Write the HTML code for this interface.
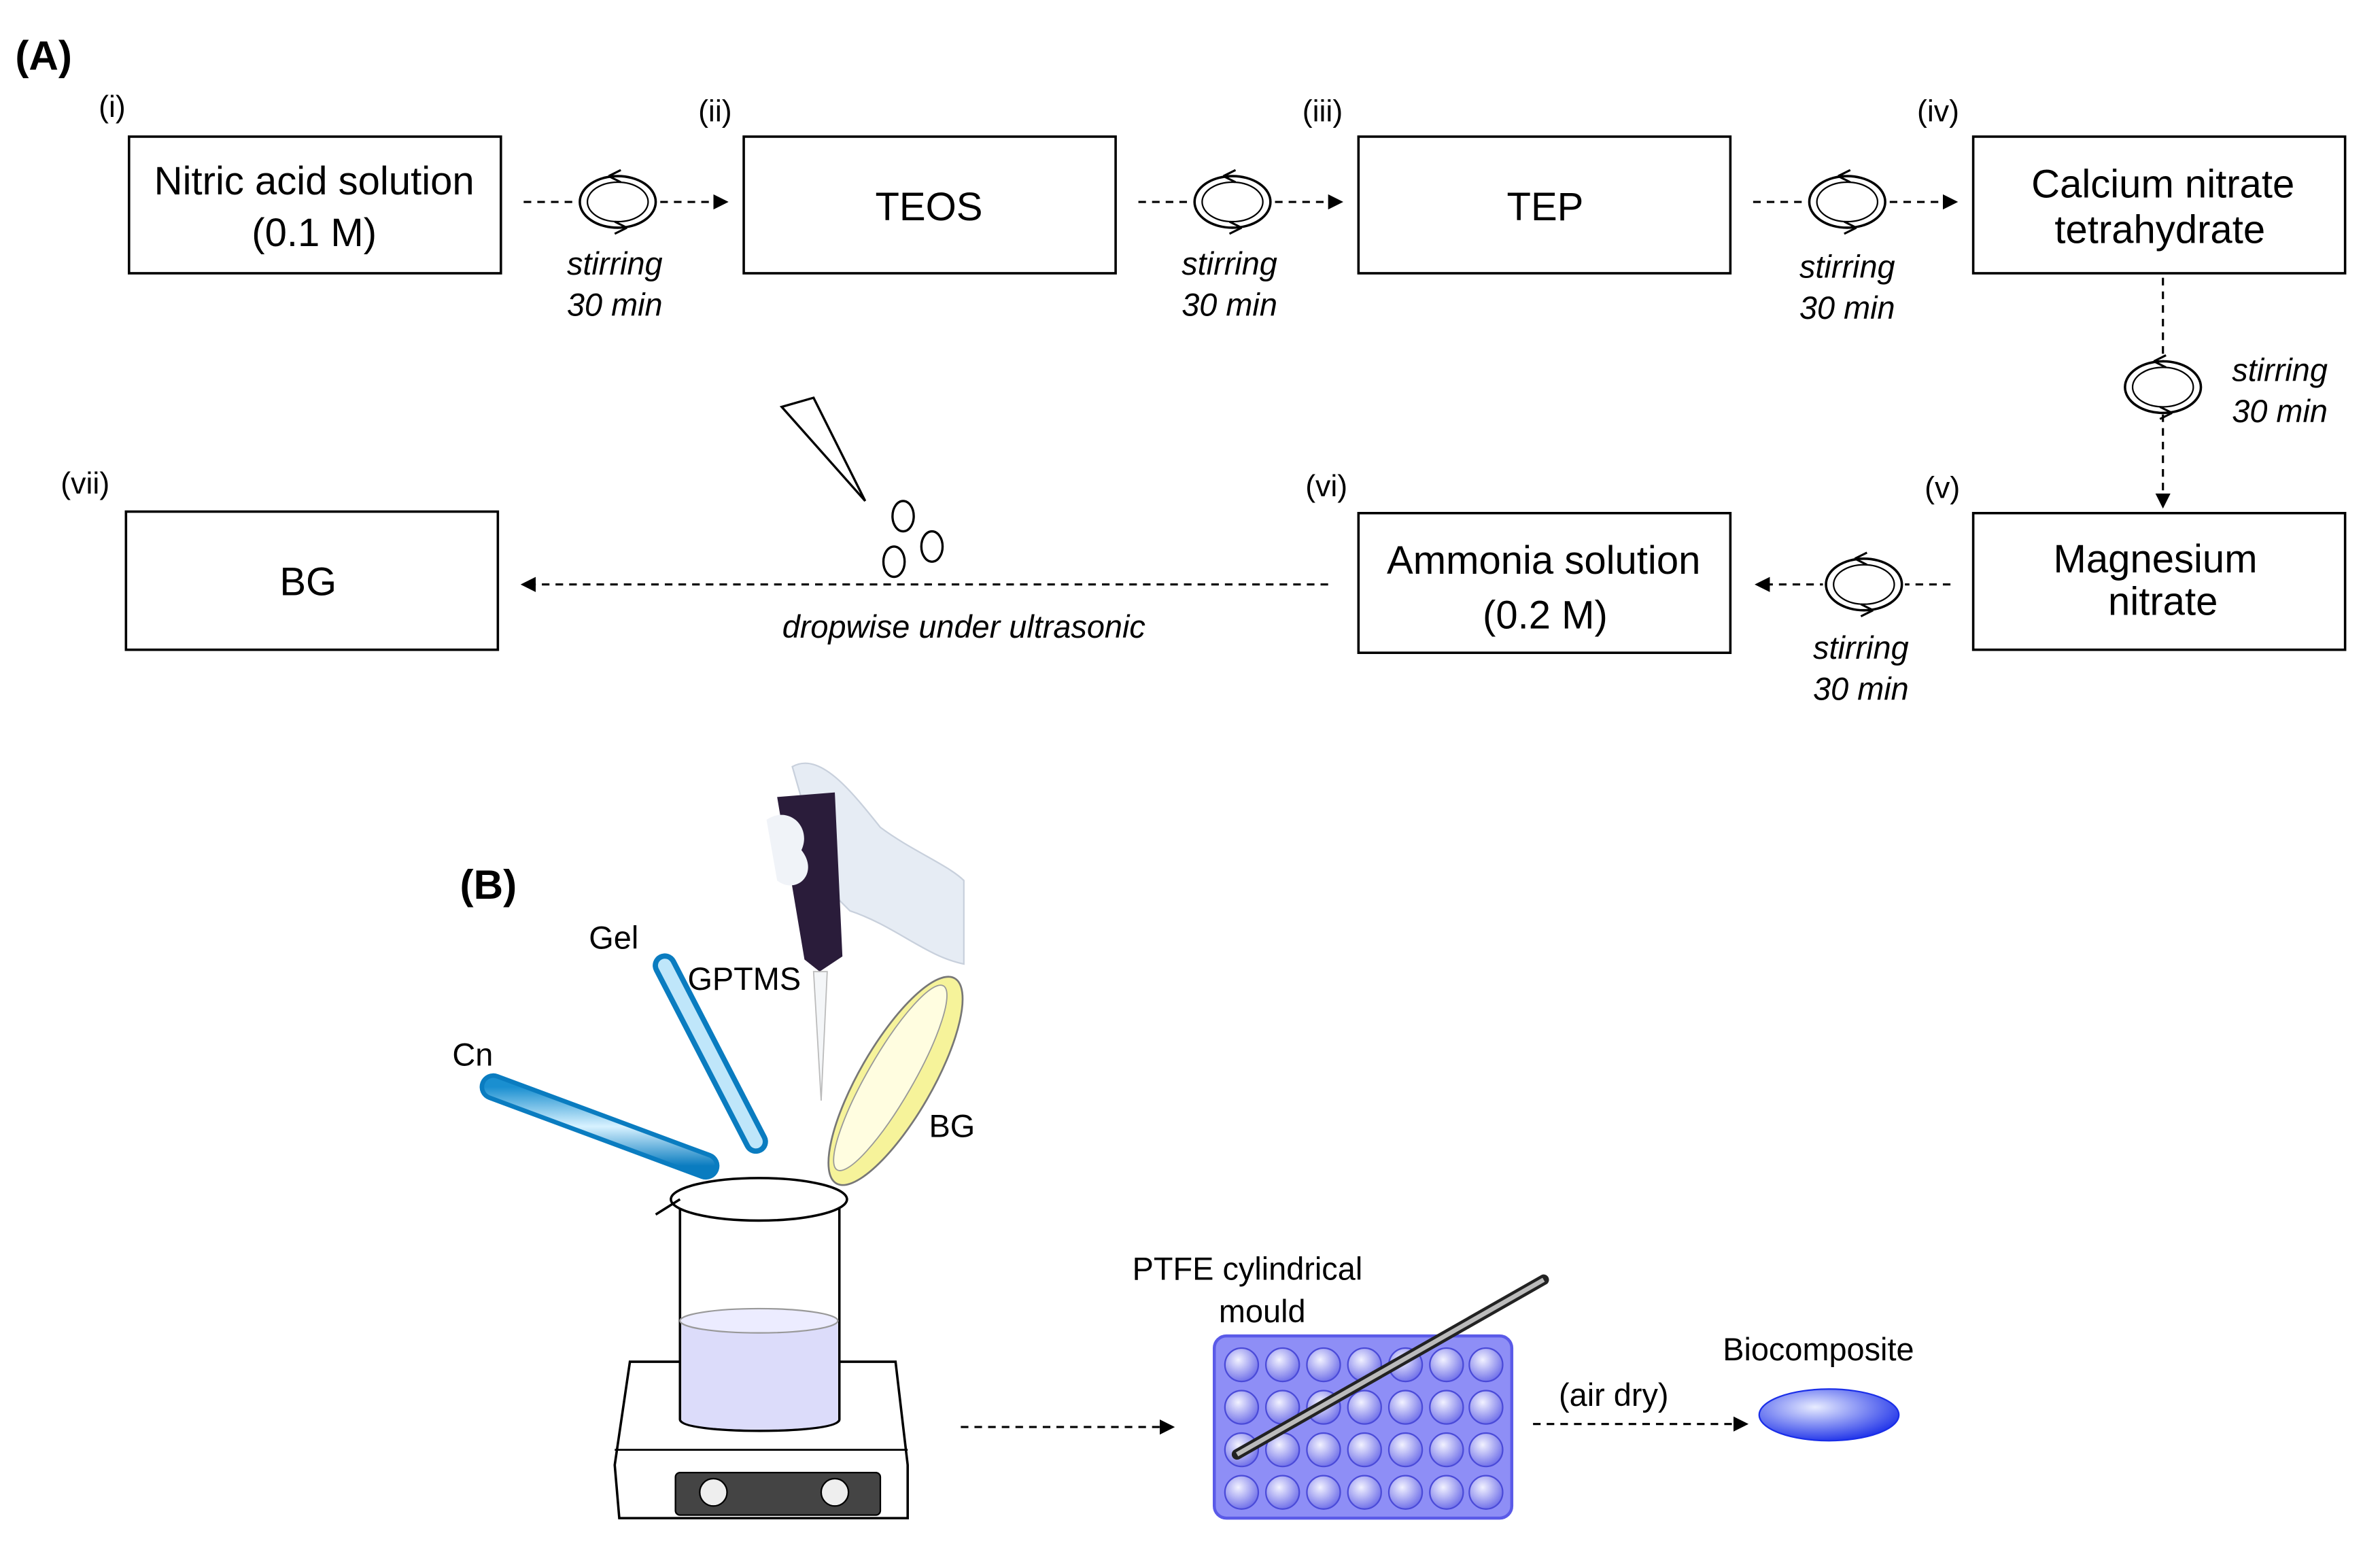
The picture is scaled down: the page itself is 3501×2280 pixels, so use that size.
<!DOCTYPE html>
<html><head><style>html,body{margin:0;padding:0;background:#fff}svg{display:block}</style></head><body>
<svg width="3501" height="2280" viewBox="0 0 1568 1021" preserveAspectRatio="none" xmlns="http://www.w3.org/2000/svg" font-family="Liberation Sans, sans-serif">
<defs>
<marker id="ah" markerWidth="10" markerHeight="10" refX="8" refY="5" orient="auto" markerUnits="userSpaceOnUse"><path d="M0,0 L10,5 L0,10 z" fill="#000"/></marker>
<symbol id="stir" viewBox="-30 -22 60 44" overflow="visible">
<ellipse cx="0" cy="0" rx="25" ry="17" fill="none" stroke="#000" stroke-width="1.6"/>
<ellipse cx="0" cy="0" rx="20" ry="13" fill="none" stroke="#000" stroke-width="1"/>
<path d="M-6,-17 l8,-4 M-6,-17 l8,4 M6,17 l-8,-4 M6,17 l-8,4" stroke="#000" stroke-width="1.4" fill="none"/>
</symbol>
<linearGradient id="tube" x1="0" y1="0" x2="0" y2="1"><stop offset="0" stop-color="#1a8fd0"/><stop offset="0.5" stop-color="#d8f2ff"/><stop offset="1" stop-color="#0a7cc0"/></linearGradient>
<radialGradient id="well" cx="0.4" cy="0.35" r="0.7"><stop offset="0" stop-color="#f2f2ff"/><stop offset="1" stop-color="#6a6ae8"/></radialGradient>
<radialGradient id="bio" cx="0.4" cy="0.35" r="0.7"><stop offset="0" stop-color="#e8ecff"/><stop offset="1" stop-color="#1a2ee8"/></radialGradient>
</defs>
<g font-size="20" fill="#000">
<text x="10" y="46" font-size="27" font-weight="bold">(A)</text>
<text x="65" y="77">(i)</text><text x="460" y="80">(ii)</text><text x="858" y="80">(iii)</text><text x="1263" y="80">(iv)</text>
<text x="40" y="325">(vii)</text><text x="860" y="327">(vi)</text><text x="1268" y="328">(v)</text>
</g>
<g fill="none" stroke="#000" stroke-width="1.6">
<rect x="85" y="90" width="245" height="90"/><rect x="490" y="90" width="245" height="90"/>
<rect x="895" y="90" width="245" height="90"/><rect x="1300" y="90" width="245" height="90"/>
<rect x="83" y="337" width="245" height="91"/><rect x="895" y="338" width="245" height="92"/>
<rect x="1300" y="338" width="245" height="90"/>
</g>
<g font-size="26" text-anchor="middle" fill="#000">
<text x="207" y="128">Nitric acid solution</text><text x="207" y="162">(0.1 M)</text>
<text x="612" y="145">TEOS</text><text x="1018" y="145">TEP</text>
<text x="1425" y="130">Calcium nitrate</text><text x="1423" y="160">tetrahydrate</text>
<text x="203" y="392">BG</text>
<text x="1017" y="378">Ammonia solution</text><text x="1018" y="414">(0.2 M)</text>
<text x="1420" y="377">Magnesium</text><text x="1425" y="405">nitrate</text>
</g>
<g stroke="#000" stroke-width="1.4" stroke-dasharray="5,4" fill="none">
<line x1="345" y1="133" x2="478" y2="133" marker-end="url(#ah)"/>
<line x1="750" y1="133" x2="883" y2="133" marker-end="url(#ah)"/>
<line x1="1155" y1="133" x2="1288" y2="133" marker-end="url(#ah)"/>
<line x1="1425" y1="183" x2="1425" y2="333" marker-end="url(#ah)"/>
<line x1="1285" y1="385" x2="1158" y2="385" marker-end="url(#ah)"/>
<line x1="875" y1="385" x2="345" y2="385" marker-end="url(#ah)"/>
<line x1="633" y1="940" x2="772" y2="940" marker-end="url(#ah)"/>
<line x1="1010" y1="938" x2="1150" y2="938" marker-end="url(#ah)"/>
</g>
<g>
<rect x="380" y="115" width="54" height="36" fill="#fff"/><use href="#stir" x="377" y="111" width="60" height="44"/>
<rect x="785" y="115" width="54" height="36" fill="#fff"/><use href="#stir" x="782" y="111" width="60" height="44"/>
<rect x="1190" y="115" width="54" height="36" fill="#fff"/><use href="#stir" x="1187" y="111" width="60" height="44"/>
<rect x="1398" y="237" width="54" height="36" fill="#fff"/><use href="#stir" x="1395" y="233" width="60" height="44"/>
<rect x="1201" y="367" width="54" height="36" fill="#fff"/><use href="#stir" x="1198" y="363" width="60" height="44"/>
</g>
<g font-size="21" font-style="italic" fill="#000" text-anchor="middle">
<text x="405" y="181">stirring</text><text x="405" y="208">30 min</text>
<text x="810" y="181">stirring</text><text x="810" y="208">30 min</text>
<text x="1217" y="183">stirring</text><text x="1217" y="210">30 min</text>
<text x="1502" y="251">stirring</text><text x="1502" y="278">30 min</text>
<text x="1226" y="434">stirring</text><text x="1226" y="461">30 min</text>
<text x="635" y="420">dropwise under ultrasonic</text>
</g>
<g fill="none" stroke="#000" stroke-width="1.5">
<path d="M515,268 L570,330 L536,262 Z"/>
<ellipse cx="595" cy="340" rx="7" ry="10"/><ellipse cx="589" cy="370" rx="7" ry="10"/><ellipse cx="614" cy="360" rx="7" ry="10"/>
</g>
<text x="303" y="592" font-size="27" font-weight="bold">(B)</text>
<g font-size="21" fill="#000">
<text x="388" y="625">Gel</text><text x="453" y="652">GPTMS</text><text x="298" y="702">Cn</text><text x="612" y="749">BG</text>
<text x="746" y="843">PTFE cylindrical</text><text x="803" y="871">mould</text>
<text x="1027" y="926">(air dry)</text><text x="1135" y="896">Biocomposite</text>
</g>
<path d="M522,505 C540,495 560,520 580,545 C600,560 625,570 635,580 L635,635 C610,630 590,610 560,600 L545,585 Z" fill="#e6ecf4" stroke="#c8d0dc"/>
<path d="M512,525 L550,522 L555,630 L540,640 L530,632 Z" fill="#2a1c3a"/>
<path d="M505,540 C520,530 535,545 528,560 C540,575 525,590 512,580 Z" fill="#f0f3f8"/>
<path d="M536,640 L545,640 L541,725 Z" fill="#f4f6f8" stroke="#bbb" stroke-width="0.8"/>
<g stroke-linecap="round">
<line x1="325" y1="716" x2="465" y2="768" stroke="#0a7cc0" stroke-width="18"/>
<line x1="325" y1="716" x2="465" y2="768" stroke="url(#tube)" stroke-width="12"/>
<line x1="438" y1="636" x2="498" y2="752" stroke="#0a7cc0" stroke-width="16"/>
<line x1="438" y1="636" x2="498" y2="752" stroke="#bfe6fa" stroke-width="9"/>
</g>
<g transform="rotate(-60 590 712)">
<ellipse cx="590" cy="712" rx="78" ry="24" fill="#f6f39a" stroke="#777" stroke-width="1.2"/>
<ellipse cx="590" cy="708" rx="70" ry="15" fill="#fffde0" stroke="#999" stroke-width="0.8"/>
</g>
<path d="M415,897 L590,897 L598,965 L598,1000 L408,1000 L405,965 Z" fill="#fff" stroke="#000" stroke-width="1.6"/>
<line x1="405" y1="955" x2="598" y2="955" stroke="#000" stroke-width="1.2"/>
<rect x="445" y="970" width="135" height="28" rx="3" fill="#444" stroke="#000"/>
<circle cx="470" cy="983" r="9" fill="#eee" stroke="#000"/><circle cx="550" cy="983" r="9" fill="#eee" stroke="#000"/>
<path d="M448,795 L448,935 C448,945 553,945 553,935 L553,795" fill="#fff" stroke="#000" stroke-width="1.6"/>
<path d="M449,870 L449,935 C449,944 552,944 552,935 L552,870 Z" fill="#dcdcfa"/>
<ellipse cx="500" cy="870" rx="52" ry="8" fill="#ececff" stroke="#999"/>
<ellipse cx="500" cy="790" rx="58" ry="14" fill="#fff" stroke="#000" stroke-width="1.6"/>
<path d="M448,790 L432,800" stroke="#000" stroke-width="1.6"/>
<rect x="800" y="880" width="196" height="120" rx="8" fill="#8e8ef6" stroke="#5a5ae8" stroke-width="2"/>
<g fill="url(#well)" stroke="#4a4ad8" stroke-width="1">
<g id="row"><circle cx="818" cy="899" r="11"/><circle cx="845" cy="899" r="11"/><circle cx="872" cy="899" r="11"/><circle cx="899" cy="899" r="11"/><circle cx="926" cy="899" r="11"/><circle cx="953" cy="899" r="11"/><circle cx="979" cy="899" r="11"/></g>
<use href="#row" y="28"/><use href="#row" y="56"/><use href="#row" y="84"/>
</g>
<line x1="815" y1="958" x2="1017" y2="843" stroke="#222" stroke-width="7" stroke-linecap="round"/>
<line x1="815" y1="958" x2="1017" y2="843" stroke="#bbb" stroke-width="3"/>
<ellipse cx="1205" cy="932" rx="46" ry="17" fill="url(#bio)" stroke="#1a2ee8"/>
</svg>
</body></html>
